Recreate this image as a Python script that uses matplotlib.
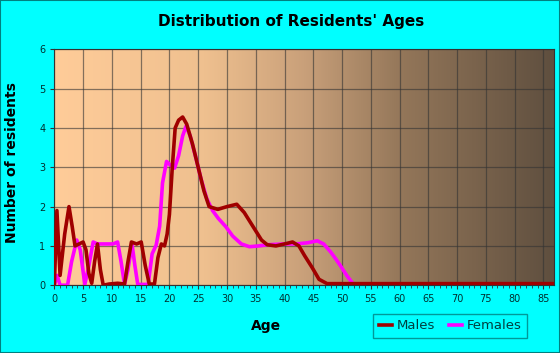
import numpy as np
import matplotlib
matplotlib.use('Agg')
import matplotlib.pyplot as plt
from matplotlib.colors import LinearSegmentedColormap

# ages / values
male_age = [0, 0.45, 1.0, 1.8, 2.55, 3.1, 3.6, 4.3, 5.0, 5.5, 6.0, 6.5, 7.0, 7.5, 8.0, 8.5,
            9.5, 11, 12.2, 12.8, 13.4, 14.3, 15.1, 15.8, 16.5, 17.4, 18.0, 18.6, 19.15, 19.6,
            20.0, 20.5, 21.0, 21.6, 22.3, 23.0, 24.0, 25.0, 26.0, 26.9, 28.4, 30.0, 31.7, 33.0,
            34.5, 36.0, 37.0, 38.5, 40.0, 41.4, 42.5, 43.5, 44.8, 46.0, 47.4, 50, 60, 70, 80, 86.8]
male_val = [0, 1.9, 0.25, 1.3, 2.0, 1.5, 1.0, 1.05, 1.1, 0.9, 0.3, 0.05, 0.6, 1.05, 0.4, 0.0,
            0.03, 0.05, 0.03, 0.6, 1.1, 1.05, 1.1, 0.5, 0.03, 0.03, 0.7, 1.05, 1.0, 1.3,
            1.8, 3.0, 4.0, 4.2, 4.28, 4.1, 3.6, 3.0, 2.4, 2.0, 1.93, 2.0, 2.06, 1.85,
            1.5, 1.15, 1.03, 1.0, 1.05, 1.1, 1.0, 0.75, 0.45, 0.15, 0.04, 0.04, 0.04, 0.04, 0.04, 0.04]

female_age = [0, 0.5, 1.0, 2.3, 3.0, 3.9, 4.5, 5.3, 6.0, 6.75, 7.5, 9, 10.2, 11.0, 11.6, 12.2,
              12.8, 13.5, 14.0, 14.5, 16.3, 17.0, 17.7, 18.3, 18.8, 19.5, 20.2, 20.9, 21.6, 22.3,
              22.9, 23.6, 24.5, 25.5, 26.5, 27.5, 28.5, 29.8, 31.0, 32.5, 33.9, 35.5, 37, 40, 42,
              44, 45.7, 46.8, 48.0, 49.0, 49.7, 50.8, 52.0, 55, 70, 86.8]
female_val = [0, 0.25, 0.0, 0.0, 0.6, 1.15, 0.9, 0.02, 0.5, 1.1, 1.05, 1.05, 1.05, 1.1, 0.6, 0.02,
              0.4, 1.05, 0.5, 0.02, 0.02, 0.8, 1.02, 1.5, 2.6, 3.15, 3.05, 2.98, 3.3, 3.8,
              4.05, 3.8, 3.3, 2.7, 2.2, 1.9, 1.7, 1.49, 1.25, 1.05, 0.98, 1.0, 1.03, 1.05, 1.05,
              1.08, 1.13, 1.05, 0.85, 0.65, 0.5, 0.25, 0.02, 0, 0, 0]

x_max = 86.8
y_max = 6

fig = plt.figure(figsize=(5.6, 3.53), dpi=100, facecolor='#00FFFF')
ax = fig.add_axes([0.097, 0.192, 0.892, 0.668])

# gradient background
grad = LinearSegmentedColormap.from_list('bg', [(0, '#FFCC99'), (0.3, '#EFC08F'),
                                                (0.5, '#C9A07A'), (0.7, '#937659'),
                                                (1.0, '#5F4F3F')])
ax.imshow(np.linspace(0, 1, 256).reshape(1, -1), cmap=grad, aspect='auto',
          extent=[0, x_max, 0, y_max], zorder=0)

ax.plot(female_age, female_val, color='#FF00FF', lw=2.6, solid_joinstyle='round', zorder=3, label='Females')
ax.plot(male_age, male_val, color='#A00000', lw=2.6, solid_joinstyle='round', zorder=4, label='Males')

ax.set_xlim(0, x_max)
ax.set_ylim(0, y_max)
ax.set_xticks(np.arange(0, 86, 5))
ax.set_xticks(np.arange(0, 87, 1), minor=True)
ax.set_yticks(range(0, 7))
ax.grid(True, color='#333333', alpha=0.6, lw=0.9, zorder=1)
ax.set_axisbelow(False)
for s in ax.spines.values():
    s.set_color('#333333')
    s.set_linewidth(0.8)
ax.tick_params(axis='both', direction='out', colors='#333333', labelcolor='#003030',
               labelsize=7, length=3, width=0.8)
ax.tick_params(axis='x', which='minor', direction='out', length=2, color='#333333')

ax.set_xlabel('Age', fontsize=10, fontweight='bold')
ax.xaxis.set_label_coords(0.424, -0.145)
ax.set_ylabel('Number of residents', fontsize=10, fontweight='bold')
ax.yaxis.set_label_coords(-0.07, 0.52)
fig.text(0.52, 0.94, "Distribution of Residents' Ages", ha='center', va='center',
         fontsize=11, fontweight='bold')

h, l = ax.get_legend_handles_labels()
leg = fig.legend(h[::-1], l[::-1], loc='lower left', bbox_to_anchor=(0.655, 0.025),
                 ncol=2, frameon=True, fancybox=False, fontsize=9.5, handlelength=1.0,
                 handletextpad=0.4, columnspacing=1.0, borderpad=0.4)
leg.get_frame().set_facecolor('#00FFFF')
leg.get_frame().set_edgecolor('#008080')
for t in leg.get_texts():
    t.set_color('#004040')

# thin figure border
fig.patches.append(plt.Rectangle((0, 0), 1, 1, transform=fig.transFigure, fill=False,
                                 edgecolor='#008080', lw=1.5))

fig.savefig('out.png', dpi=100, facecolor=fig.get_facecolor())
